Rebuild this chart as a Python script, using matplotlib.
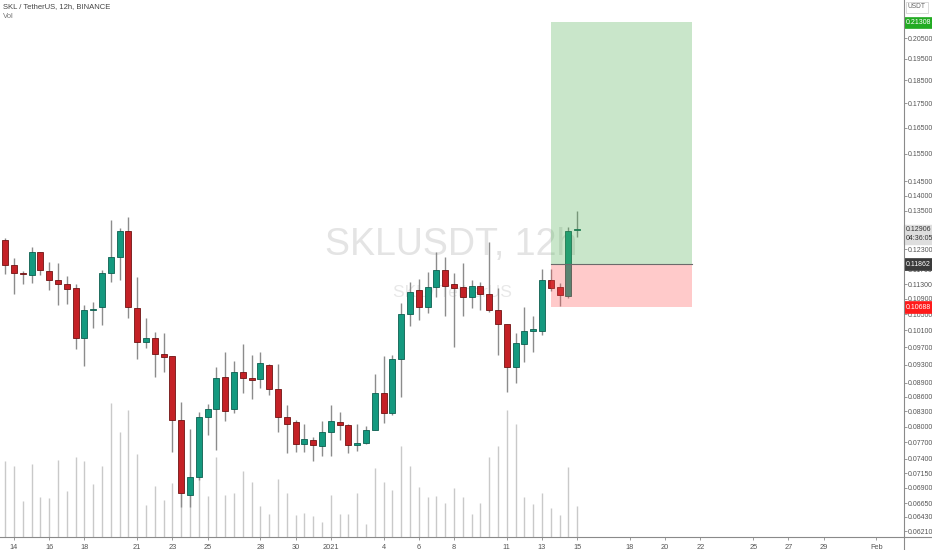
import numpy as np
import pandas as pd
import matplotlib
matplotlib.use("Agg")
import matplotlib.pyplot as plt
import matplotlib.dates as mdates
from matplotlib.patches import Rectangle
from matplotlib.lines import Line2D
from matplotlib.ticker import FixedLocator, FormatStrFormatter, NullLocator

plt.rcParams['font.family'] = ['Liberation Sans', 'DejaVu Sans']
NARROW = ['Liberation Sans Narrow', 'Liberation Sans', 'DejaVu Sans']

# SKL / TetherUS 12h candles, 2020-12-13 12:00 .. 2021-01-15 00:00
opens = [0.1257, 0.1183, 0.1161, 0.1156, 0.1220, 0.1165, 0.1140, 0.1129, 0.1119, 0.0992,
         0.1062, 0.1068, 0.1161, 0.1206, 0.1285, 0.1067, 0.0983, 0.0992, 0.0954, 0.0949,
         0.0814, 0.0678, 0.0708, 0.0819, 0.0835, 0.0902, 0.0835, 0.0913, 0.0901, 0.0897,
         0.0930, 0.0876, 0.0820, 0.0809, 0.0767, 0.0775, 0.0764, 0.0790, 0.0810, 0.0803,
         0.0765, 0.0769, 0.0793, 0.0867, 0.0827, 0.0942, 0.1050, 0.1113, 0.1068, 0.1121,
         0.1169, 0.1129, 0.1121, 0.1096, 0.1125, 0.1103, 0.1061, 0.1025, 0.0924, 0.0977,
         0.1009, 0.1009, 0.1141, 0.1121, 0.1098, 0.1287]
highs = [0.1262, 0.1204, 0.1166, 0.1237, 0.1222, 0.1191, 0.1188, 0.1152, 0.1130, 0.1074,
         0.1081, 0.1169, 0.1319, 0.1295, 0.1330, 0.1149, 0.1040, 0.1006, 0.1004, 0.0949,
         0.0849, 0.0795, 0.0828, 0.0845, 0.0925, 0.0958, 0.0938, 0.0977, 0.0952, 0.0958,
         0.0931, 0.0932, 0.0843, 0.0814, 0.0806, 0.0781, 0.0811, 0.0843, 0.0828, 0.0806,
         0.0806, 0.0801, 0.0908, 0.0949, 0.0952, 0.1079, 0.1135, 0.1144, 0.1163, 0.1222,
         0.1207, 0.1160, 0.1190, 0.1141, 0.1136, 0.1250, 0.1118, 0.1027, 0.1003, 0.1068,
         0.1046, 0.1172, 0.1172, 0.1134, 0.1296, 0.1350]
lows = [0.1157, 0.1102, 0.1131, 0.1133, 0.1155, 0.1115, 0.1074, 0.1078, 0.0965, 0.0927,
        0.1015, 0.1023, 0.1135, 0.1140, 0.1042, 0.0942, 0.0969, 0.0903, 0.0914, 0.0753,
        0.0659, 0.0658, 0.0703, 0.0785, 0.0756, 0.0812, 0.0826, 0.0869, 0.0855, 0.0879,
        0.0864, 0.0790, 0.0750, 0.0752, 0.0753, 0.0736, 0.0745, 0.0745, 0.0775, 0.0750,
        0.0755, 0.0768, 0.0793, 0.0807, 0.0822, 0.0859, 0.1022, 0.1036, 0.1053, 0.1096,
        0.1047, 0.0971, 0.1047, 0.1067, 0.1061, 0.1056, 0.0951, 0.0871, 0.0889, 0.0936,
        0.0958, 0.1000, 0.1111, 0.1072, 0.1092, 0.1267]
closes = [0.1183, 0.1161, 0.1158, 0.1220, 0.1168, 0.1140, 0.1130, 0.1117, 0.0992, 0.1061,
          0.1064, 0.1161, 0.1206, 0.1285, 0.1070, 0.0983, 0.0991, 0.0954, 0.0946, 0.0813,
          0.0682, 0.0708, 0.0819, 0.0835, 0.0901, 0.0830, 0.0913, 0.0901, 0.0896, 0.0933,
          0.0876, 0.0820, 0.0806, 0.0767, 0.0776, 0.0766, 0.0790, 0.0811, 0.0803, 0.0765,
          0.0769, 0.0793, 0.0867, 0.0827, 0.0942, 0.1050, 0.1109, 0.1068, 0.1121, 0.1169,
          0.1125, 0.1120, 0.1096, 0.1125, 0.1103, 0.1061, 0.1025, 0.0924, 0.0980, 0.1009,
          0.1013, 0.1141, 0.1120, 0.1100, 0.1286, 0.1291]
# volume in millions SKL
volumes = [7.6, 7.1, 3.6, 7.3, 4.0, 3.9, 7.7, 4.6, 8.0, 7.6,
           5.3, 7.1, 13.4, 10.5, 12.7, 8.3, 3.2, 5.1, 3.7, 5.4,
           9.5, 6.5, 7.0, 4.1, 8.0, 4.2, 4.4, 6.6, 5.5, 3.1,
           2.3, 5.8, 4.4, 2.2, 2.4, 2.1, 1.5, 4.2, 2.3, 2.3,
           4.4, 1.3, 6.9, 5.5, 4.7, 9.1, 7.1, 5.0, 4.0, 4.1,
           3.4, 4.9, 4.0, 2.3, 3.4, 8.0, 9.1, 12.7, 11.3, 4.0,
           3.3, 4.4, 2.9, 2.2, 7.0, 3.1]

# long position tool
pos_target = 0.21308
pos_entry = 0.11862
pos_stop = 0.10688
pos_start = "2021-01-13 12:00"
pos_end = "2021-01-21 12:00"

last_price = 0.12906
countdown = "04:36:05"

price_ticks = [0.0621, 0.0643, 0.0665, 0.069, 0.0715, 0.074, 0.077, 0.080, 0.083,
               0.086, 0.089, 0.093, 0.097, 0.101, 0.105, 0.109, 0.113, 0.117, 0.123,
               0.135, 0.140, 0.145, 0.155, 0.165, 0.175, 0.185, 0.195, 0.205]
date_ticks = ["2020-12-14", "2020-12-16", "2020-12-18", "2020-12-21", "2020-12-23",
              "2020-12-25", "2020-12-28", "2020-12-30", "2021-01-01", "2021-01-04",
              "2021-01-06", "2021-01-08", "2021-01-11", "2021-01-13", "2021-01-15",
              "2021-01-18", "2021-01-20", "2021-01-22", "2021-01-25", "2021-01-27",
              "2021-01-29", "2021-02-01"]
date_labels = ["14", "16", "18", "21", "23", "25", "28", "30", "2021", "4", "6", "8",
               "11", "13", "15", "18", "20", "22", "25", "27", "29", "Feb"]

o = np.array(opens); h = np.array(highs); l = np.array(lows); c = np.array(closes)
t = mdates.date2num(pd.date_range("2020-12-13 12:00", periods=len(opens), freq="12h"))
up = c >= o

fig = plt.figure(figsize=(9.32, 5.5), dpi=100)
rect = [0, 13 / 550, 904 / 932, 537 / 550]

# volume pane behind the price pane
axv = fig.add_axes(rect)
ax = fig.add_axes(rect, sharex=axv)
axv.set_zorder(0)
ax.set_zorder(1)
ax.patch.set_visible(False)

axv.vlines(t, 0, volumes, color='#c9c9c9', lw=1.0)
axv.set_ylim(0, max(volumes) * 4.0)
axv.set_yticks([])
for s in axv.spines.values():
    s.set_visible(False)

# watermark
ax.text(0.4995, 0.543, "SKLUSDT, 12h", transform=ax.transAxes, ha='center', va='center',
        fontsize=27, color='#e4e4e4', zorder=0)
ax.text(0.5, 0.455, "SKL / TetherUS", transform=ax.transAxes, ha='center', va='center',
        fontsize=12.5, color='#e8e8e8', zorder=0)

# candles
ax.vlines(t, l, h, color='#8c8c8c', lw=1.0, zorder=2)
w = 0.34
ax.bar(t[up], np.maximum(c[up] - o[up], 0.0001), bottom=o[up], width=w,
       color='#14997f', edgecolor='#0d5f50', linewidth=0.6, zorder=3)
ax.bar(t[~up], np.maximum(o[~up] - c[~up], 0.0001), bottom=c[~up], width=w,
       color='#c42126', edgecolor='#701313', linewidth=0.6, zorder=3)

# position box
x0 = mdates.date2num(pd.Timestamp(pos_start))
x1 = mdates.date2num(pd.Timestamp(pos_end))
ax.add_patch(Rectangle((x0, pos_entry), x1 - x0, pos_target - pos_entry,
                       facecolor='#4caf50', alpha=0.3, lw=0, zorder=4))
ax.add_patch(Rectangle((x0, pos_stop), x1 - x0, pos_entry - pos_stop,
                       facecolor='#ff5252', alpha=0.3, lw=0, zorder=4))
ax.plot([x0, x1], [pos_entry, pos_entry], color='#6b6b6b', lw=0.8, zorder=5)

# axes
d0 = mdates.date2num(pd.Timestamp("2020-12-14"))
ax.set_xlim(d0 - 0.795, d0 + 50.57)
ax.set_yscale('log')
ax.set_ylim(0.06125, 0.2248)
ax.yaxis.tick_right()
ax.yaxis.set_major_locator(FixedLocator(price_ticks))
ax.yaxis.set_major_formatter(FormatStrFormatter('%.5f'))
ax.yaxis.set_minor_locator(NullLocator())
ax.set_xticks(mdates.date2num(pd.to_datetime(date_ticks)))
ax.set_xticklabels(date_labels)
ax.tick_params(axis='x', length=2.5, width=0.6, color='#8a8a8a',
               labelsize=5.3, labelcolor='#555555', pad=2.5)
ax.tick_params(axis='y', length=1.8, width=0.6, color='#8a8a8a',
               labelsize=5.0, labelcolor='#555555', pad=1.0)
for lab in ax.get_yticklabels():
    lab.set_family(NARROW)
for name, s in ax.spines.items():
    s.set_visible(False)
axv.tick_params(axis='x', length=0, labelbottom=False)

# axis lines
fig.add_artist(Line2D([904 / 932, 904 / 932], [0, 1], color='#8a8a8a', lw=0.8))
fig.add_artist(Line2D([0, 1], [13 / 550, 13 / 550], color='#8a8a8a', lw=0.8))


def badge(y, text, fc, tc):
    ax.annotate(text, xy=(1.0, y), xycoords=('axes fraction', 'data'),
                xytext=(1.6, 0), textcoords='offset points', ha='left', va='center',
                fontsize=5.0, family=NARROW, color=tc, zorder=10, annotation_clip=False,
                bbox=dict(boxstyle='square,pad=0.3', fc=fc, ec=fc, lw=0.5))


badge(pos_target, "%.5f" % pos_target, '#22ab22', 'white')
badge(pos_entry, "%.5f" % pos_entry, '#3a3a3a', 'white')
badge(pos_stop, "%.5f" % pos_stop, '#ff1a1a', 'white')
ax.annotate("%.5f\n%s" % (last_price, countdown), xy=(1.0, last_price),
            xycoords=('axes fraction', 'data'), xytext=(1.6, -3.5), textcoords='offset points',
            ha='left', va='center', fontsize=5.0, family=NARROW, color='#333333', zorder=10,
            annotation_clip=False, linespacing=1.3,
            bbox=dict(boxstyle='square,pad=0.25', fc='#dedede', ec='#dedede'))
fig.text(917 / 932, 1 - 7 / 550, "USDT", ha='center', va='center', fontsize=4.8,
         family=NARROW, color='#666666',
         bbox=dict(boxstyle='square,pad=0.3', fc='white', ec='#cccccc', lw=0.5))

# legend text
fig.text(3 / 932, 1 - 7 / 550, "SKL / TetherUS, 12h, BINANCE", ha='left', va='center',
         fontsize=5.5, color='#444444')
fig.text(3 / 932, 1 - 16 / 550, "Vol", ha='left', va='center', fontsize=5.5, color='#777777')

fig.savefig("out.png", dpi=100)
